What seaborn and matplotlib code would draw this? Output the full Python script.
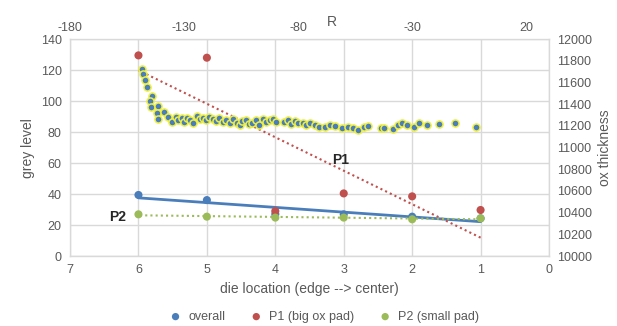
import numpy as np
import pandas as pd
import matplotlib
matplotlib.use("Agg")
import matplotlib.pyplot as plt
import seaborn as sns

# die location data (grey level)
die_loc = [6, 5, 4, 3, 2, 1]
overall = [39.4, 36.1, 27.0, 26.9, 25.4, 24.3]
p1 = [129.5, 128.0, 29.0, 40.4, 38.5, 29.7]
p2 = [26.9, 25.4, 24.8, 24.8, 23.7, 24.3]

# ox thickness vs R
r_vals = [-148.5, -147.8, -147.0, -146.3, -144.0, -144.8, -144.5, -141.5, -141.8, -141.3,
          -139.0, -137.0, -135.5, -133.5, -132.5, -131.0, -130.0, -128.8, -127.5, -126.0,
          -124.5, -123.0, -121.5, -120.5, -119.0, -117.5, -116.0, -114.5, -113.0, -111.5,
          -110.0, -108.5, -107.0, -105.5, -104.5, -103.0, -101.5, -100.0, -98.5, -97.0,
          -95.5, -94.0, -92.5, -91.0, -89.5, -86.0, -84.5, -83.0, -81.5, -80.0,
          -78.0, -76.5, -74.8, -72.6, -70.7, -68.2, -66.0, -63.8, -60.9, -58.0,
          -55.8, -53.9, -50.9, -49.2, -43.6, -42.2, -38.3, -36.3, -34.3, -32.4,
          -29.0, -27.0, -23.6, -18.1, -11.2, -2.1]
thick = [11725, 11680, 11620, 11560, 11475, 11430, 11370, 11385, 11315, 11265,
         11330, 11278, 11235, 11285, 11250, 11275, 11240, 11270, 11250, 11230,
         11290, 11265, 11270, 11250, 11285, 11260, 11245, 11270, 11235, 11255,
         11230, 11265, 11225, 11205, 11245, 11255, 11215, 11230, 11250, 11210,
         11265, 11235, 11255, 11262, 11240, 11235, 11250, 11220, 11245, 11230,
         11225, 11210, 11223, 11207, 11192, 11192, 11210, 11198, 11177, 11192,
         11177, 11161, 11192, 11198, 11177, 11177, 11174, 11204, 11223, 11210,
         11192, 11223, 11210, 11216, 11223, 11186]

df = pd.DataFrame({"loc": die_loc, "overall": overall, "p1": p1, "p2": p2})
ox = pd.DataFrame({"R": r_vals, "thick": thick})

sns.set_style("white")
plt.rcParams["font.family"] = ["Liberation Sans", "DejaVu Sans"]
plt.rcParams["axes.unicode_minus"] = False
txt = "#595959"
grid = "#d9d9d9"
c_blue = "#4a7ebb"
c_red = "#c0504d"
c_green = "#9bbb59"

fig, ax = plt.subplots(figsize=(6.17, 3.26), dpi=100)
fig.subplots_adjust(left=0.1135, right=0.8898, top=0.880, bottom=0.2147)

# trendlines
sns.regplot(data=df, x="loc", y="overall", ax=ax, scatter=False, ci=None,
            line_kws=dict(color=c_blue, lw=2))
sns.regplot(data=df, x="loc", y="p1", ax=ax, scatter=False, ci=None,
            line_kws=dict(color=c_red, lw=1.5, ls=(0, (1, 1.5))))
sns.regplot(data=df, x="loc", y="p2", ax=ax, scatter=False, ci=None,
            line_kws=dict(color=c_green, lw=1.5, ls=(0, (1, 1.5))))

sns.scatterplot(data=df, x="loc", y="overall", ax=ax, color=c_blue, s=34,
                edgecolor="none", label="overall", zorder=3)
sns.scatterplot(data=df, x="loc", y="p1", ax=ax, color=c_red, s=34,
                edgecolor="none", label="P1 (big ox pad)", zorder=3)
sns.scatterplot(data=df, x="loc", y="p2", ax=ax, color=c_green, s=34,
                edgecolor="none", label="P2 (small pad)", zorder=3)

ax.set_xlim(7, 0)
ax.set_ylim(0, 140)
ax.set_xticks(range(7, -1, -1))
ax.set_yticks(range(0, 141, 20))
ax.grid(True, color=grid, lw=1)
ax.set_xlabel("die location (edge --> center)", color=txt, fontsize=10)
ax.set_ylabel("grey level", color=txt, fontsize=10)
ax.tick_params(length=0, labelcolor=txt, labelsize=9, pad=6)

ax.text(3.05, 62, "P1", fontweight="bold", fontsize=10, ha="center", va="center")
ax.text(6.3, 25.5, "P2", fontweight="bold", fontsize=10, ha="center", va="center")

# secondary axes
ax2 = ax.twinx()
ax2.set_ylim(10000, 12000)
ax2.set_yticks(range(10000, 12001, 200))
ax2.set_ylabel("ox thickness", color=txt, fontsize=10)
ax2.tick_params(length=0, labelcolor=txt, labelsize=9, pad=6)

ax3 = ax2.twiny()
sns.scatterplot(data=ox, x="R", y="thick", ax=ax3, color=c_blue, s=26,
                edgecolor="#eeee44", linewidth=1.1, legend=False)
ax3.set_xlim(-180, 30)
ax3.set_xticks(range(-180, 21, 50))
ax3.set_ylim(10000, 12000)
ax3.set_xlabel("R", color=txt, fontsize=10)
ax3.xaxis.set_label_coords(0.547, 1.06)
ax3.set_ylabel("")
ax3.tick_params(length=0, labelcolor=txt, labelsize=9, pad=4)

for a in (ax, ax2, ax3):
    for s in a.spines.values():
        s.set_color(grid)
ax.spines["bottom"].set_color("#bfbfbf")

h, l = ax.get_legend_handles_labels()
ax.get_legend().remove()
fig.legend(h, l, loc="lower center", bbox_to_anchor=(0.52, -0.025), ncol=3, frameon=False,
           fontsize=9, labelcolor=txt, handletextpad=0.0, columnspacing=1.5, markerscale=0.9)

fig.savefig("out.png", dpi=100)
